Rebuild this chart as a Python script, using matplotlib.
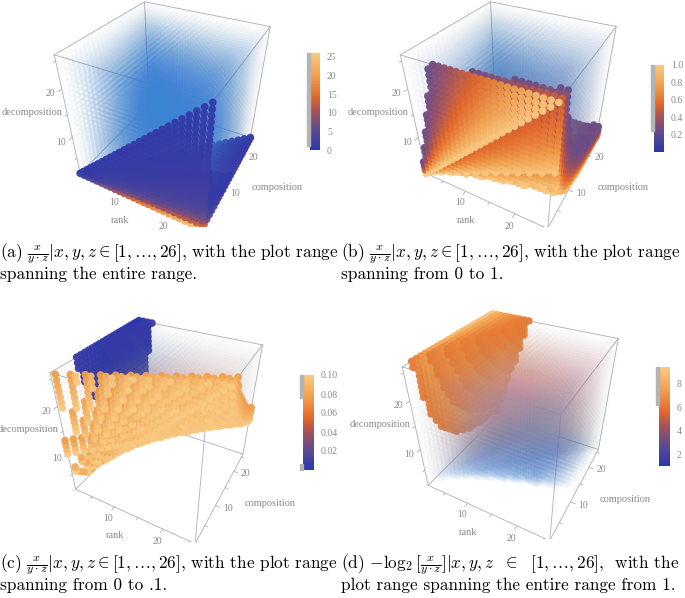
import numpy as np
import matplotlib.pyplot as plt
from matplotlib.colors import LinearSegmentedColormap, Normalize
from matplotlib.cm import ScalarMappable
from matplotlib.patches import Rectangle

plt.rcParams['mathtext.fontset'] = 'cm'

# sample grid of the three axes (x = rank, y = composition, z = decomposition)
rank = np.arange(1, 27)
composition = np.arange(1, 27)
decomposition = np.arange(1, 27)

# plot ranges of the four panels
plot_lo = [0.0, 0.0, 0.0, 1.0]
plot_hi = [26.0, 1.0, 0.1, np.log2(26 * 26)]
# value bands drawn (nearly) opaque, shown as the grey strip by the colour bar
opaque_bands = [[(1.0, 26.0)],
                [(0.24, 1.0)],
                [(0.0, 0.006), (0.076, 0.1)],
                [(6.2, 9.41)]]
cbar_ticks = [[0, 5, 10, 15, 20, 25],
              [0.2, 0.4, 0.6, 0.8, 1.0],
              [0.02, 0.04, 0.06, 0.08, 0.10],
              [2, 4, 6, 8]]
cbar_fmt = ['%d', '%.1f', '%.2f', '%d']
captions = [
    [r'(a) $\frac{x}{y\cdot z}|x, y, z \in [1, \ldots, 26]$, with the plot range',
     'spanning the entire range.'],
    [r'(b) $\frac{x}{y\cdot z}|x, y, z \in [1, \ldots, 26]$, with the plot range',
     'spanning from 0 to 1.'],
    [r'(c) $\frac{x}{y\cdot z}|x, y, z \in [1, \ldots, 26]$, with the plot range',
     'spanning from 0 to .1.'],
    [r'(d) $-\log_2[\frac{x}{y\cdot z}]|x, y, z\ \ \in\ \ [1, \ldots, 26]$,  with the',
     'plot range spanning the entire range from 1.'],
]

cmap = LinearSegmentedColormap.from_list('sunset', [
    (0.00, '#2a36ad'), (0.20, '#5b4a93'), (0.40, '#a4525a'),
    (0.55, '#e2682a'), (0.78, '#f1a250'), (1.00, '#f9c982')])
# lighter colours used for the translucent (fog) part of the volume
fog_cmap = LinearSegmentedColormap.from_list('fog', [
    (0.00, '#3a84d8'), (0.12, '#6c86c4'), (0.25, '#9a94a4'),
    (0.40, '#d2939c'), (0.55, '#e2a07e'), (1.00, '#f3c58c')])
fog_alpha = [0.065, 0.05, 0.035, 0.07]

X, Y, Z = np.meshgrid(rank, composition, decomposition, indexing='ij')
ratio = X / (Y * Z)
panel_values = [ratio, ratio, ratio, -np.log2(ratio)]

# fog thins out towards the side and top faces of the box
edge_dist = np.minimum.reduce([X - 1, 26 - X, Y - 1, 26 - Y, 26 - Z]).astype(float)
fade = np.clip((edge_dist + 0.5) / 7.0, 0.0, 1.0)

fig = plt.figure(figsize=(6.85, 5.98), dpi=100)
W, H = 685.0, 598.0

# pixel boxes: 3d axes, colour bar
ax_px = [(22, -13, 290, 240), (368, -13, 290, 240), (16, 306, 290, 236), (370, 299, 290, 240)]
cb_px = [(310, 53, 10, 97), (654, 65, 10, 87), (303, 375, 11, 95), (659, 367, 11, 99)]
cap_x = [0, 341, 0, 341]
cap_y = [[254, 274], [254, 274], [565, 585], [565, 585]]

grey = '#8a8a8a'
lo_b, hi_b = rank[0], rank[-1]
sfont = 'Liberation Serif'

for i in range(4):
    px = ax_px[i]
    ax = fig.add_axes([px[0] / W, 1 - (px[1] + px[3]) / H, px[2] / W, px[3] / H],
                      projection='3d')
    ax.set_proj_type('persp', focal_length=0.27)
    ax.view_init(elev=36, azim=-61.6)
    ax.set_box_aspect((1, 1, 1), zoom=0.98)
    ax.set_axis_off()
    ax.set_xlim(lo_b, hi_b)
    ax.set_ylim(lo_b, hi_b)
    ax.set_zlim(lo_b, hi_b)

    vals = panel_values[i]
    lo, hi = plot_lo[i], plot_hi[i]
    keep = (vals >= lo) & (vals <= hi)
    x, y, z, v, f = X[keep], Y[keep], Z[keep], vals[keep], fade[keep]
    t = (v - lo) / (hi - lo)
    opaque = np.zeros(v.shape, bool)
    for b0, b1 in opaque_bands[i]:
        opaque |= (v >= b0) & (v <= b1)
    rgba = np.where(opaque[:, None], cmap(t), fog_cmap(t))
    rgba[:, 3] = np.where(opaque, 0.96, fog_alpha[i] * f)
    ax.scatter(x, y, z, c=rgba, s=30, edgecolors='none', depthshade=False)

    # bounding box
    for a in (lo_b, hi_b):
        for b in (lo_b, hi_b):
            ax.plot([lo_b, hi_b], [a, a], [b, b], color='#b0b0b0', lw=0.6)
            ax.plot([a, a], [lo_b, hi_b], [b, b], color='#b0b0b0', lw=0.6)
            ax.plot([a, a], [b, b], [lo_b, hi_b], color='#b0b0b0', lw=0.6)

    # small tick marks
    for tk in range(5, 26, 5):
        ln = 0.8 if tk % 10 == 0 else 0.5
        ax.plot([tk, tk], [lo_b, lo_b - ln], [lo_b, lo_b], color='#b0b0b0', lw=0.6)
        ax.plot([hi_b, hi_b + ln], [tk, tk], [lo_b, lo_b], color='#b0b0b0', lw=0.6)
        ax.plot([lo_b, lo_b], [lo_b, lo_b - ln], [tk, tk], color='#b0b0b0', lw=0.6)

    # tick labels and axis labels
    for tk in (10, 20):
        ax.text(tk, lo_b - 1.8, lo_b, str(tk), color=grey, fontsize=7,
                family=sfont, ha='center', va='top')
        ax.text(hi_b + 1.5, tk, lo_b, str(tk), color=grey, fontsize=7,
                family=sfont, ha='left', va='center')
        ax.text(lo_b, lo_b - 1.5, tk, str(tk), color=grey, fontsize=7,
                family=sfont, ha='right', va='center')
    ax.text(13, lo_b - 4.2, lo_b, 'rank', color=grey, fontsize=7.5,
            family=sfont, ha='center', va='top')
    ax.text(hi_b + 4.5, 13, lo_b, 'composition', color=grey, fontsize=7.5,
            family=sfont, ha='left', va='center')
    ax.text(lo_b, lo_b - 0.9, 16.0, 'decomposition', color=grey, fontsize=7.5,
            family=sfont, ha='right', va='center')

    # colour bar with opacity strip
    cp = cb_px[i]
    cax = fig.add_axes([cp[0] / W, 1 - (cp[1] + cp[3]) / H, cp[2] / W, cp[3] / H])
    cb = fig.colorbar(ScalarMappable(Normalize(lo, hi), cmap), cax=cax)
    cb.outline.set_visible(False)
    cb.set_ticks(cbar_ticks[i])
    cb.ax.set_yticklabels([cbar_fmt[i] % k for k in cbar_ticks[i]])
    cb.ax.tick_params(length=0, pad=5, labelsize=7, labelcolor=grey)
    for lab in cb.ax.get_yticklabels():
        lab.set_family(sfont)
    for b0, b1 in opaque_bands[i]:
        cax.add_patch(Rectangle((-0.3, b0), 0.3, min(b1, hi) - b0,
                                transform=cax.get_yaxis_transform(),
                                color='#b4b4b4', clip_on=False))

    for line, yy in zip(captions[i], cap_y[i]):
        fig.text(cap_x[i] / W, 1 - yy / H, line, fontsize=12.4,
                 family='cmr10', va='center')

fig.savefig('out.png', dpi=100)
